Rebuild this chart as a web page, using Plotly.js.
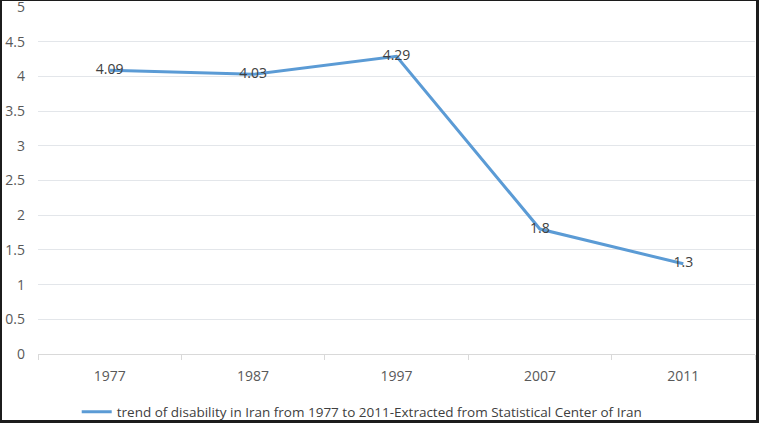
<!DOCTYPE html>
<html>
<head>
<meta charset="utf-8">
<script src="https://cdn.plot.ly/plotly-3.0.1.min.js"></script>
<style>
html,body{margin:0;padding:0;background:#1c1c1c;width:759px;height:423px;overflow:hidden;}
#wrap{position:absolute;left:2px;top:1px;width:754px;height:419px;background:#fff;overflow:hidden;}
#chart{position:absolute;left:0;top:-20px;width:754px;height:460px;}
</style>
</head>
<body>
<div id="wrap"><div id="chart"></div></div>
<script>
const years = ['1977', '1987', '1997', '2007', '2011'];
const values = [4.09, 4.03, 4.29, 1.8, 1.3];
const labels = ['4.09', '4.03', '4.29', '1.8', '1.3'];
const seriesName = 'trend of disability in Iran from 1977 to 2011-Extracted from Statistical Center of Iran';
const yTicks = [0, 0.5, 1, 1.5, 2, 2.5, 3, 3.5, 4, 4.5, 5];

const trace = {
  x: years,
  y: values,
  type: 'scatter',
  mode: 'lines+text',
  name: seriesName,
  text: labels,
  textposition: 'middle center',
  textfont: {family: 'Open Sans, Liberation Sans, sans-serif', size: 14, color: '#404040'},
  line: {color: '#5b9bd5', width: 3},
  cliponaxis: false
};

const layout = {
  width: 754,
  height: 460,
  margin: {l: 36, r: 1, t: 26, b: 87},
  paper_bgcolor: 'rgba(0,0,0,0)',
  plot_bgcolor: '#ffffff',
  font: {family: 'Open Sans, Liberation Sans, sans-serif', size: 14, color: '#595959'},
  showlegend: true,
  legend: {
    orientation: 'h',
    x: 0.054, xanchor: 'left',
    y: -0.167, yanchor: 'middle',
    font: {size: 13.5, color: '#404040'},
    bgcolor: 'rgba(0,0,0,0)'
  },
  xaxis: {
    type: 'category',
    range: [-0.5, 4.5],
    automargin: false,
    showgrid: false,
    showline: true,
    linecolor: '#d9d9d9',
    linewidth: 1,
    ticks: 'outside',
    tickson: 'boundaries',
    ticklen: 5,
    tickcolor: '#d9d9d9',
    ticklabelstandoff: 9,
    tickfont: {size: 14, color: '#595959'},
    zeroline: false,
    fixedrange: true
  },
  yaxis: {
    range: [0, 5],
    automargin: false,
    tickvals: yTicks,
    ticktext: yTicks.map(String),
    ticklabeloverflow: 'allow',
    showgrid: true,
    gridcolor: '#e3e6ea',
    gridwidth: 1,
    zeroline: false,
    showline: false,
    ticks: '',
    ticklabelstandoff: 12,
    tickfont: {size: 14, color: '#595959'},
    fixedrange: true
  }
};

Plotly.newPlot('chart', [trace], layout, {displayModeBar: false, staticPlot: true});
</script>
</body>
</html>
